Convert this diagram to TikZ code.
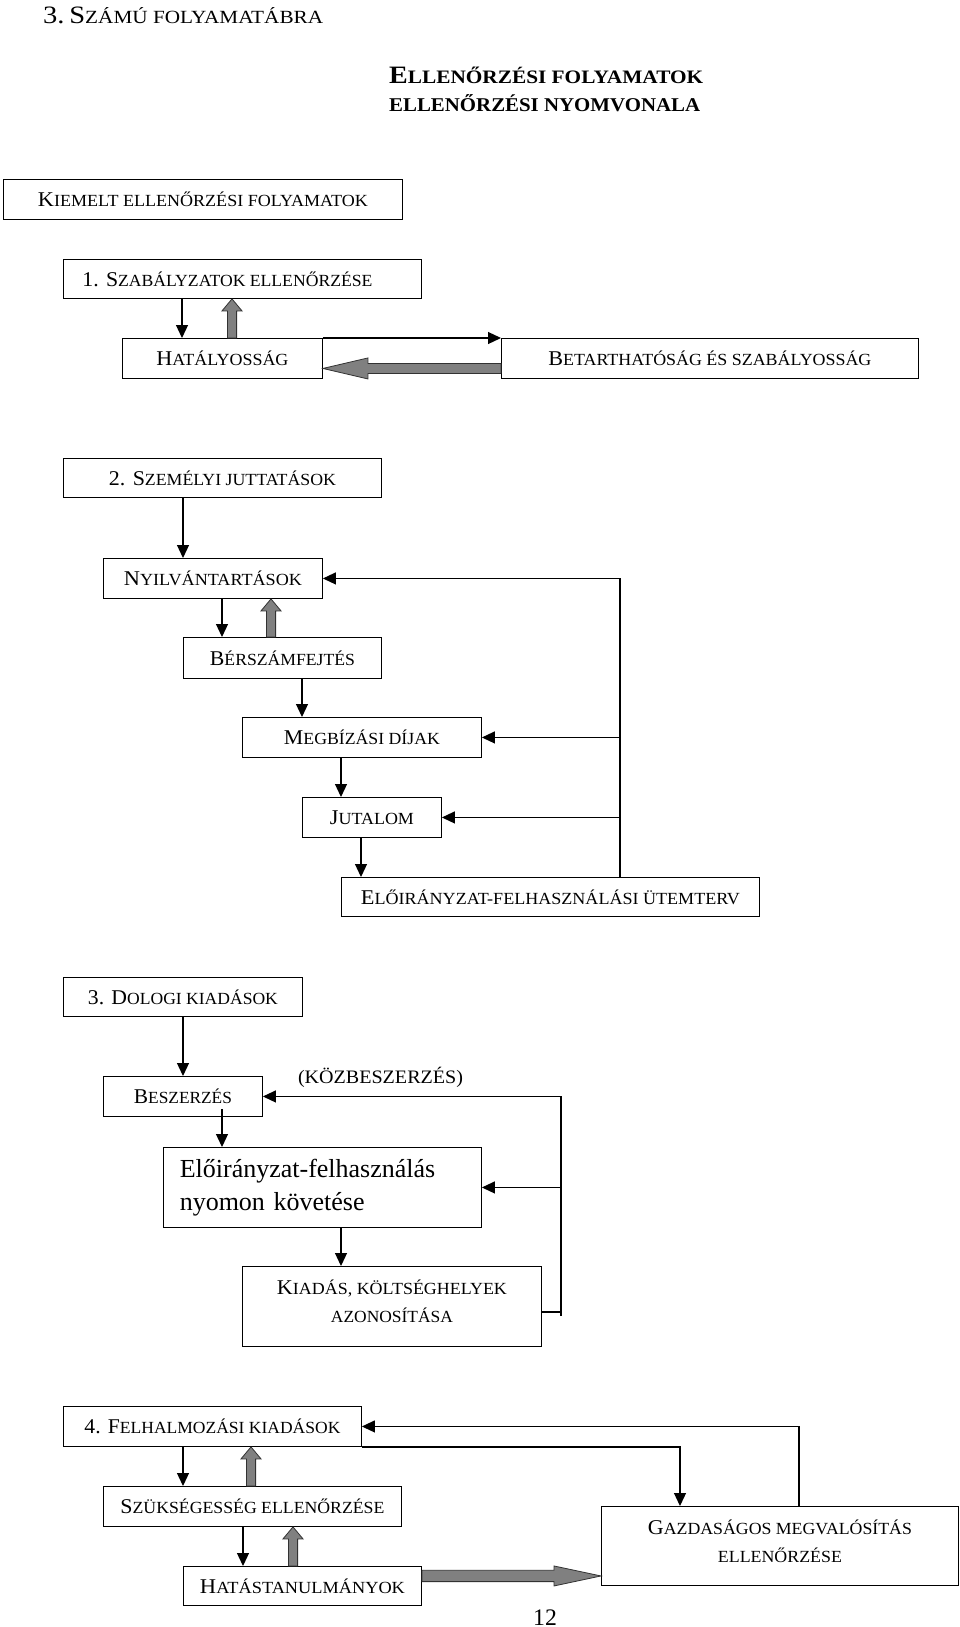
\documentclass[tikz,border=0pt]{standalone}
\usepackage{graphicx}
\usepackage{fontspec}
\setmainfont{Liberation Serif}
\usetikzlibrary{arrows.meta,calc}
\newsavebox\fitbox
\newcommand\fitw[2]{\sbox\fitbox{#2}\pgfmathsetmacro\fitr{#1/\the\wd\fitbox}\scalebox{\fitr}[1]{\usebox\fitbox}}
\newcommand\bg[1]{{\fontsize{21pt}{21pt}\selectfont #1}}
\definecolor{fatgray}{RGB}{128,128,128}
\definecolor{fatline}{RGB}{50,50,50}
\newcommand\fatup[2]{\path[fat] let \p1=(#1), \p2=(#2) in (\x1-4.6pt,\y1) -- (\x1-4.6pt,\y2-12pt) -- (\x1-10pt,\y2-12pt) -- (\x1,\y2) -- (\x1+10pt,\y2-12pt) -- (\x1+4.6pt,\y2-12pt) -- (\x1+4.6pt,\y1) -- cycle;}
\newcommand\fatleft[5]{\path[fat] let \p1=(#1), \p2=(#2) in (\x1,\y1-#3) -- (\x2+#5,\y1-#3) -- (\x2+#5,\y1-#4) -- (\x2,\y1) -- (\x2+#5,\y1+#4) -- (\x2+#5,\y1+#3) -- (\x1,\y1+#3) -- cycle;}
\newcommand\fatright[5]{\path[fat] let \p1=(#1), \p2=(#2) in (\x1,\y1-#3) -- (\x2-#5,\y1-#3) -- (\x2-#5,\y1-#4) -- (\x2,\y1) -- (\x2-#5,\y1+#4) -- (\x2-#5,\y1+#3) -- (\x1,\y1+#3) -- cycle;}
\tikzset{
  box/.style={draw, line width=0.9pt, inner sep=0pt, anchor=north west, font=\fontsize{17pt}{20pt}\selectfont},
  box1/.style={box, text height=15pt, text depth=0pt},
  box2/.style={box, align=center, font=\fontsize{17pt}{28pt}\selectfont, text depth=10pt},
  arr/.style={line width=1.2pt, -{Triangle[length=13pt,width=12pt]}},
  plain/.style={line width=1.2pt},
  fat/.style={fill=fatgray, draw=fatline, line width=0.8pt, line join=miter}
}
\begin{document}
\begin{tikzpicture}[x=1pt, y=-1pt]
\useasboundingbox (0,0) rectangle (960,1627);
% titles
\node[anchor=base west, inner sep=0pt, font=\fontsize{18.6pt}{19pt}\selectfont] (title) at (43,24) {\fitw{280}{{\fontsize{25pt}{25pt}\selectfont 3.\,S}ZÁMÚ FOLYAMATÁBRA}};
\node[anchor=base west, inner sep=0pt, font=\bfseries\fontsize{19pt}{19pt}\selectfont] (h1) at (389,84) {\fitw{314}{{\fontsize{25pt}{25pt}\selectfont E}LLENŐRZÉSI FOLYAMATOK}};
\node[anchor=base west, inner sep=0pt, font=\bfseries\fontsize{19.5pt}{19.5pt}\selectfont] (h2) at (389,111.3) {\fitw{311}{ELLENŐRZÉSI NYOMVONALA}};
\node[box1, minimum width=399pt, minimum height=40pt] (kiem) at (3,179) {\fitw{330}{\bg{K}IEMELT ELLENŐRZÉSI FOLYAMATOK}};
% section 1
\node[box1, minimum width=358pt, minimum height=39pt] (szab) at (63,259) {\hspace*{-30pt}\fitw{290}{\bg{1. S}ZABÁLYZATOK ELLENŐRZÉSE}};
\node[box1, minimum width=200pt, minimum height=40pt] (hat) at (122,338) {\fitw{132}{\bg{H}ATÁLYOSSÁG}};
\node[box1, minimum width=417pt, minimum height=40pt] (bet) at (501,338) {\fitw{323}{\bg{B}ETARTHATÓSÁG ÉS SZABÁLYOSSÁG}};
\coordinate (s1a) at ($(szab.south west)+(119,0)$);
\draw[arr] (s1a) -- (s1a |- hat.north);
\coordinate (s1b) at ($(hat.north west)+(110,0)$);
\fatup{s1b}{szab.south}
\draw[arr] (hat.north east) -- (bet.north west);
\coordinate (s1c) at ($(bet.west)+(0,10)$);
\fatleft{s1c}{hat.east}{5pt}{10.5pt}{45pt}
% section 2
\node[box1, minimum width=318pt, minimum height=39pt] (szem) at (63,458) {\fitw{227}{\bg{2. S}ZEMÉLYI JUTTATÁSOK}};
\node[box1, minimum width=219pt, minimum height=40pt] (nyil) at (103,558) {\fitw{178}{\bg{N}YILVÁNTARTÁSOK}};
\node[box1, minimum width=198pt, minimum height=41pt] (ber) at (183,637) {\fitw{145}{\bg{B}ÉRSZÁMFEJTÉS}};
\node[box1, minimum width=239pt, minimum height=40pt] (megb) at (242,717) {\fitw{156}{\bg{M}EGBÍZÁSI DÍJAK}};
\node[box1, minimum width=139pt, minimum height=40pt] (jut) at (302,797) {\fitw{84}{\bg{J}UTALOM}};
\node[box1, minimum width=418pt, minimum height=39pt] (elo) at (341,877) {\fitw{379}{\bg{E}LŐIRÁNYZAT-FELHASZNÁLÁSI ÜTEMTERV}};
\coordinate (s2a) at ($(szem.south west)+(120,0)$);
\draw[arr] (s2a) -- (s2a |- nyil.north);
\coordinate (s2b) at ($(nyil.south west)+(119,0)$);
\draw[arr] (s2b) -- (s2b |- ber.north);
\coordinate (s2c) at ($(ber.north west)+(88,0)$);
\fatup{s2c}{nyil.south}
\coordinate (s2d) at ($(ber.south west)+(119,0)$);
\draw[arr] (s2d) -- (s2d |- megb.north);
\coordinate (s2e) at ($(megb.south west)+(99,0)$);
\draw[arr] (s2e) -- (s2e |- jut.north);
\coordinate (s2f) at ($(jut.south west)+(59,0)$);
\draw[arr] (s2f) -- (s2f |- elo.north);
\coordinate (s2g) at ($(elo.north west)+(279,0)$);
\draw[arr] (s2g) |- (nyil.east);
\draw[arr] (s2g |- megb.east) -- (megb.east);
\draw[arr] (s2g |- jut.east) -- (jut.east);
% section 3
\node[box1, minimum width=239pt, minimum height=39pt] (dol) at (63,977) {\fitw{190}{\bg{3. D}OLOGI KIADÁSOK}};
\node[box1, minimum width=159pt, minimum height=40pt] (besz) at (103,1076) {\fitw{98}{\bg{B}ESZERZÉS}};
\node[inner sep=0pt, font=\fontsize{19pt}{19pt}\selectfont] (kozb) at (380.5,1077) {\fitw{165}{(KÖZBESZERZÉS)}};
\node[box, minimum width=318pt, minimum height=80pt, text width=285.4pt, inner xsep=16.3pt, align=left, font=\fontsize{26pt}{32.7pt}\selectfont] (elir) at (163,1147) {Előirányzat-felhasználás\\nyomon követése};
\node[box2, minimum width=299pt, minimum height=80pt] (kiad) at (242,1266) {\fitw{230}{\bg{K}IADÁS, KÖLTSÉGHELYEK}\\\fitw{122}{AZONOSÍTÁSA}};
\coordinate (s3a) at ($(dol.south west)+(120,0)$);
\draw[arr] (s3a) -- (s3a |- besz.north);
\coordinate (s3b) at ($(besz.south west)+(119,-8)$);
\draw[arr] (s3b) -- (s3b |- elir.north);
\coordinate (s3c) at ($(elir.south west)+(178,0)$);
\draw[arr] (s3c) -- (s3c |- kiad.north);
\coordinate (s3e) at ($(kiad.north east)+(19,46)$);
\coordinate (s3f) at ($(s3e)+(0,4)$);
\draw[arr] (s3f) |- (besz.east);
\draw[plain] (kiad.east |- s3e) -- (s3e);
\draw[arr] (s3e |- elir.east) -- (elir.east);
% section 4
\node[box1, minimum width=298pt, minimum height=40pt] (felh) at (63,1406) {\fitw{256}{\bg{4. F}ELHALMOZÁSI KIADÁSOK}};
\node[box1, minimum width=298pt, minimum height=40pt] (szuk) at (103,1486) {\fitw{264}{\bg{S}ZÜKSÉGESSÉG ELLENŐRZÉSE}};
\node[box1, minimum width=238pt, minimum height=39pt] (hats) at (183,1566) {\fitw{205}{\bg{H}ATÁSTANULMÁNYOK}};
\node[box2, minimum width=357pt, minimum height=79pt] (gazd) at (601,1506) {\fitw{264}{\bg{G}AZDASÁGOS MEGVALÓSÍTÁS}\\\fitw{124}{ELLENŐRZÉSE}};
\coordinate (s4a) at ($(felh.south west)+(120,0)$);
\draw[arr] (s4a) -- (s4a |- szuk.north);
\coordinate (s4b) at ($(szuk.north west)+(148,0)$);
\fatup{s4b}{felh.south}
\coordinate (s4c) at ($(szuk.south west)+(140,0)$);
\draw[arr] (s4c) -- (s4c |- hats.north);
\coordinate (s4d) at ($(hats.north west)+(110,0)$);
\fatup{s4d}{szuk.south}
\coordinate (s4e) at ($(gazd.north west)+(79,0)$);
\draw[arr] (felh.south east) -| (s4e);
\coordinate (s4f) at ($(gazd.north west)+(198,0)$);
\draw[arr] (s4f) |- (felh.east);
\coordinate (s4g) at ($(hats.east)+(0,-10)$);
\fatright{s4g}{gazd.west}{5.65pt}{10pt}{47pt}
\node[anchor=base, inner sep=0pt, font=\fontsize{23.7pt}{24pt}\selectfont] (pnum) at (545,1625) {12};
\end{tikzpicture}
\end{document}
